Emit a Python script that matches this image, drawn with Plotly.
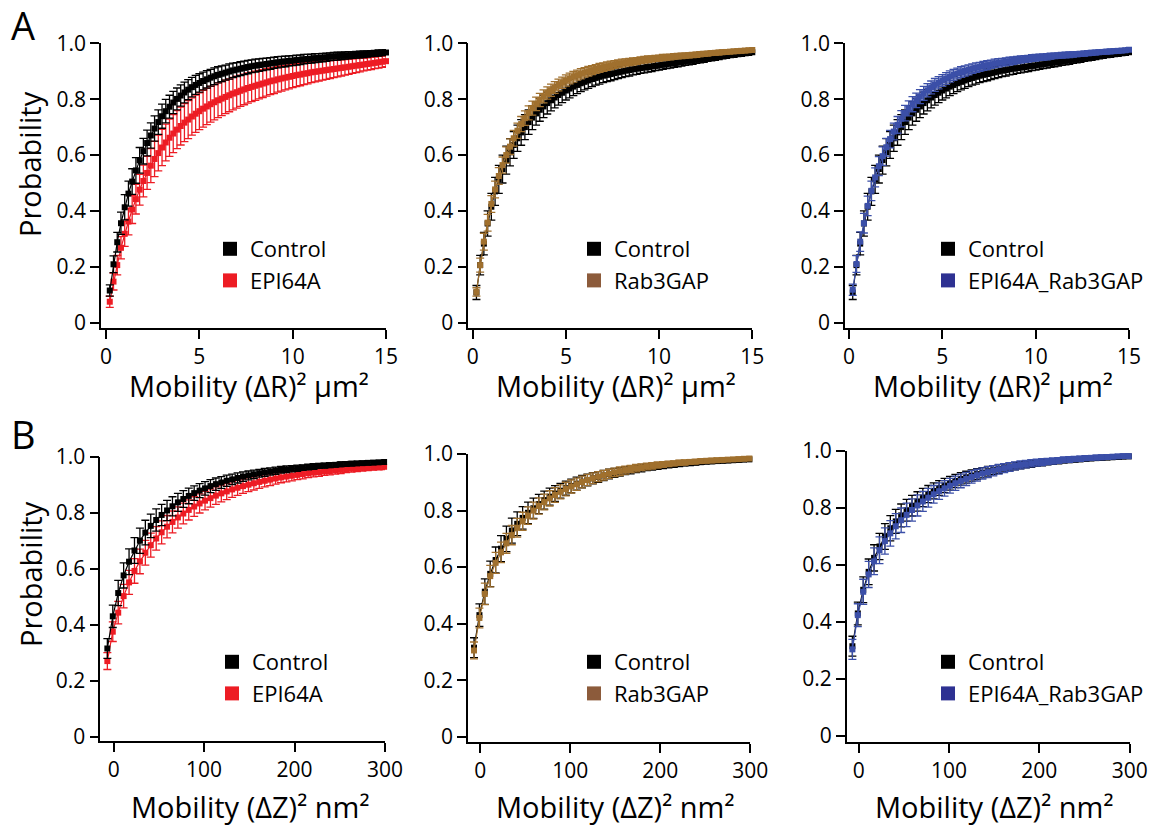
import plotly.graph_objects as go

# ---------------- data ----------------
xA = [0.2, 0.4, 0.6, 0.8, 1.0, 1.2, 1.4, 1.6, 1.8, 2.0,
      2.2, 2.4, 2.6, 2.8, 3.0, 3.2, 3.4, 3.6, 3.8, 4.0,
      4.2, 4.4, 4.6, 4.8, 5.0, 5.2, 5.4, 5.6, 5.8, 6.0,
      6.2, 6.4, 6.6, 6.8, 7.0, 7.2, 7.4, 7.6, 7.8, 8.0,
      8.2, 8.4, 8.6, 8.8, 9.0, 9.2, 9.4, 9.6, 9.8, 10.0,
      10.2, 10.4, 10.6, 10.8, 11.0, 11.2, 11.4, 11.6, 11.8, 12.0,
      12.2, 12.4, 12.6, 12.8, 13.0, 13.2, 13.4, 13.6, 13.8, 14.0,
      14.2, 14.4, 14.6, 14.8, 15.0]

ctrlA1 = [.115, .209, .288, .356, .413, .462, .505, .545, .581, .614,
          .643, .670, .695, .718, .739, .757, .773, .788, .801, .813,
          .824, .834, .843, .851, .858, .865, .871, .877, .882, .887,
          .891, .895, .899, .903, .906, .909, .912, .915, .918, .920,
          .922, .924, .926, .928, .930, .932, .934, .935, .937, .938,
          .940, .941, .943, .944, .945, .947, .948, .949, .950, .952,
          .953, .954, .955, .956, .957, .958, .959, .960, .961, .962,
          .963, .964, .965, .966, .967]
ctrlA1_err = [.020, .030, .035, .040, .045, .045, .046, .046, .046, .046,
              .046, .045, .045, .044, .043, .042, .041, .040, .039, .038,
              .037, .036, .035, .034, .033, .032, .031, .030, .030, .029,
              .028, .027, .027, .026, .025, .025, .024, .024, .023, .023,
              .022, .022, .021, .021, .020, .020, .019, .019, .018, .018,
              .018, .017, .017, .016, .016, .016, .015, .015, .015, .014,
              .014, .014, .013, .013, .013, .012, .012, .012, .012, .011,
              .011, .011, .011, .010, .010]

epiA1 = [.075, .147, .206, .268, .318, .362, .405, .442, .476, .507,
         .536, .562, .586, .607, .627, .645, .662, .677, .691, .704,
         .716, .727, .738, .748, .757, .766, .774, .782, .789, .796,
         .802, .808, .814, .820, .825, .830, .835, .840, .844, .848,
         .852, .856, .860, .864, .867, .871, .874, .877, .880, .883,
         .886, .888, .891, .893, .896, .898, .900, .902, .904, .906,
         .908, .910, .912, .914, .916, .918, .920, .922, .924, .926,
         .928, .930, .932, .934, .936]
epiA1_err = [.020, .030, .035, .040, .045, .048, .050, .053, .055, .057,
             .059, .061, .063, .064, .065, .066, .067, .068, .068, .068,
             .068, .068, .067, .067, .066, .066, .065, .064, .063, .062,
             .061, .060, .059, .058, .057, .056, .055, .054, .053, .052,
             .051, .050, .049, .048, .047, .046, .045, .044, .043, .042,
             .041, .040, .039, .038, .037, .036, .035, .034, .033, .032,
             .031, .030, .029, .028, .027, .026, .025, .024, .023, .022,
             .022, .021, .021, .020, .020]

ctrlA23 = [.108, .206, .283, .355, .415, .470, .513, .550, .582, .610,
           .636, .660, .681, .700, .718, .734, .749, .762, .774, .786,
           .796, .806, .815, .823, .831, .838, .845, .851, .857, .862,
           .867, .872, .876, .880, .884, .887, .890, .893, .896, .899,
           .902, .904, .907, .909, .911, .913, .915, .917, .919, .921,
           .923, .925, .927, .929, .931, .933, .935, .937, .939, .941,
           .943, .945, .947, .949, .951, .953, .955, .957, .959, .960,
           .962, .963, .965, .966, .968]
ctrlA23_err = [.025, .035, .040, .045, .048, .050, .050, .050, .050, .049,
               .048, .047, .046, .045, .044, .043, .042, .041, .040, .039,
               .038, .037, .036, .035, .034, .033, .032, .031, .030, .029,
               .028, .027, .026, .026, .025, .024, .024, .023, .022, .022,
               .021, .021, .020, .020, .019, .019, .018, .018, .017, .017,
               .016, .016, .016, .015, .015, .015, .014, .014, .014, .013,
               .013, .013, .012, .012, .012, .011, .011, .011, .010, .010,
               .010, .010, .009, .009, .009]

rabA2 = [.110, .206, .290, .358, .425, .477, .525, .564, .600, .630,
         .660, .687, .711, .732, .751, .768, .783, .797, .810, .822,
         .832, .842, .851, .859, .867, .874, .880, .886, .891, .896,
         .900, .904, .908, .912, .915, .918, .921, .924, .927, .929,
         .931, .933, .935, .937, .939, .941, .943, .944, .946, .947,
         .949, .950, .951, .953, .954, .955, .956, .957, .958, .959,
         .961, .962, .963, .965, .966, .967, .968, .969, .970, .971,
         .972, .973, .974, .975, .976]
rabA2_err = [.015, .025, .030, .030, .030, .030, .030, .029, .029, .028,
             .028, .027, .027, .026, .025, .025, .024, .024, .023, .022,
             .022, .021, .021, .020, .020, .019, .019, .018, .018, .017,
             .017, .016, .016, .016, .015, .015, .015, .014, .014, .014,
             .013, .013, .013, .012, .012, .012, .012, .011, .011, .011,
             .011, .010, .010, .010, .010, .010, .009, .009, .009, .009,
             .009, .009, .008, .008, .008, .008, .008, .008, .007, .007,
             .007, .007, .007, .007, .007]

epiRabA3 = [.118, .210, .290, .356, .418, .472, .520, .560, .596, .628,
            .657, .684, .708, .730, .750, .767, .782, .796, .809, .821,
            .832, .842, .851, .859, .867, .874, .881, .887, .892, .897,
            .901, .905, .909, .913, .916, .919, .922, .925, .928, .930,
            .932, .934, .936, .938, .940, .942, .944, .945, .947, .948,
            .950, .951, .952, .954, .955, .956, .957, .958, .959, .960,
            .961, .962, .963, .965, .966, .967, .968, .969, .970, .971,
            .972, .973, .974, .975, .977]
epiRabA3_err = [.020, .030, .035, .035, .035, .035, .034, .034, .033, .032,
                .031, .030, .030, .029, .028, .027, .027, .026, .025, .025,
                .024, .023, .023, .022, .021, .021, .020, .020, .019, .019,
                .018, .018, .017, .017, .016, .016, .016, .015, .015, .015,
                .014, .014, .014, .013, .013, .013, .012, .012, .012, .012,
                .011, .011, .011, .011, .010, .010, .010, .010, .010, .009,
                .009, .009, .009, .009, .009, .008, .008, .008, .008, .008,
                .008, .008, .007, .007, .007]

xB = [-7, -1, 5, 11, 17, 23, 29, 35, 41, 47,
      53, 59, 65, 71, 77, 83, 89, 95, 101, 107,
      113, 119, 125, 131, 137, 143, 149, 155, 161, 167,
      173, 179, 185, 191, 197, 203, 209, 215, 221, 227,
      233, 239, 245, 251, 257, 263, 269, 275, 281, 287,
      293, 299]

ctrlB = [.315, .430, .513, .576, .625, .665, .700, .729, .753, .774,
         .792, .808, .823, .837, .849, .860, .870, .879, .887, .895,
         .902, .908, .914, .919, .924, .929, .933, .937, .941, .944,
         .947, .950, .953, .955, .957, .959, .961, .963, .965, .967,
         .968, .970, .971, .973, .974, .975, .976, .977, .978, .979,
         .980, .981]
ctrlB_err = [.035, .040, .045, .045, .046, .046, .045, .044, .042, .040,
             .038, .036, .034, .032, .030, .028, .026, .025, .024, .023,
             .022, .021, .020, .019, .018, .017, .016, .015, .014, .014,
             .013, .013, .012, .012, .011, .011, .010, .010, .010, .009,
             .009, .009, .008, .008, .008, .008, .007, .007, .007, .007,
             .006, .006]

epiB = [.270, .375, .443, .502, .551, .592, .626, .657, .684, .708,
        .730, .750, .767, .783, .797, .810, .822, .833, .843, .852,
        .861, .869, .876, .883, .889, .895, .900, .905, .910, .914,
        .918, .922, .926, .929, .932, .935, .938, .941, .943, .945,
        .947, .949, .951, .953, .955, .957, .958, .960, .961, .962,
        .963, .964]
epiB_err = [.030, .035, .040, .042, .043, .044, .044, .044, .043, .042,
            .041, .040, .039, .038, .037, .036, .035, .034, .033, .032,
            .031, .030, .029, .028, .027, .026, .025, .024, .023, .022,
            .021, .020, .019, .019, .018, .017, .017, .016, .015, .015,
            .014, .014, .013, .013, .012, .012, .011, .011, .011, .010,
            .010, .010]

rabB = [.305, .420, .505, .568, .615, .652, .684, .713, .739, .762,
        .782, .800, .816, .830, .843, .855, .866, .876, .885, .893,
        .901, .908, .914, .920, .925, .930, .935, .939, .943, .947,
        .950, .953, .956, .958, .961, .963, .965, .967, .969, .970,
        .972, .973, .975, .976, .977, .978, .979, .980, .981, .982,
        .983, .984]
rabB_err = [.030, .035, .038, .038, .037, .036, .035, .034, .033, .032,
            .031, .030, .029, .028, .027, .026, .025, .024, .023, .022,
            .021, .020, .019, .018, .017, .016, .015, .015, .014, .013,
            .013, .012, .012, .011, .011, .010, .010, .009, .009, .009,
            .008, .008, .008, .007, .007, .007, .007, .006, .006, .006,
            .006, .006]

epiRabB = [.304, .424, .506, .567, .613, .652, .684, .711, .736, .757,
           .776, .793, .809, .823, .836, .848, .859, .869, .878, .887,
           .895, .902, .909, .915, .921, .926, .931, .936, .940, .944,
           .948, .951, .954, .957, .959, .961, .963, .965, .967, .969,
           .970, .972, .973, .975, .976, .977, .978, .979, .980, .981,
           .982, .982]
epiRabB_err = [.035, .040, .044, .046, .047, .047, .046, .045, .044, .043,
               .041, .039, .037, .035, .033, .031, .029, .027, .026, .025,
               .024, .023, .022, .021, .020, .019, .018, .017, .016, .015,
               .014, .014, .013, .013, .012, .012, .011, .011, .010, .010,
               .010, .009, .009, .009, .008, .008, .008, .008, .007, .007,
               .007, .007]

yticks = [0, 0.2, 0.4, 0.6, 0.8, 1.0]
ytext = ["0", "0.2", "0.4", "0.6", "0.8", "1.0"]
xticksA = [0, 5, 10, 15]
xticksB = [0, 100, 200, 300]
titleA = "Mobility (ΔR)² μm²"
titleB = "Mobility (ΔZ)² nm²"

# ---------------- styling ----------------
W, H = 1158, 832
FONT = "Open Sans"
BLACK = "#000000"
RED = "#ed1c24"
BROWN = "#a0702e"
BROWN_LEG = "#8c5b3b"
BLUE = "#3b4fa8"
BLUE_LEG = "#2e3192"


def fx(p):
    return p / W


def fy(p):
    return 1 - p / H


# panels: pixel domains and ranges
panels = [
    dict(dx=(101, 386), dy=(43.3, 327.7), xr=(-0.27, 15), yr=(-0.018, 1.0), xt=xticksA,
         title=titleA, tcx=249, tcy=385, leg=(230, 247),
         series=[("EPI64A", xA, epiA1, epiA1_err, RED),
                 ("Control", xA, ctrlA1, ctrlA1_err, BLACK)],
         legend=[("Control", BLACK), ("EPI64A", RED)]),
    dict(dx=(468.3, 752.3), dy=(43.3, 327.7), xr=(-0.236, 15), yr=(-0.018, 1.0), xt=xticksA,
         title=titleA, tcx=616, tcy=385, leg=(594, 247),
         series=[("Control", xA, ctrlA23, ctrlA23_err, BLACK),
                 ("Rab3GAP", xA, rabA2, rabA2_err, BROWN)],
         legend=[("Control", BLACK), ("Rab3GAP", BROWN_LEG)]),
    dict(dx=(845, 1129), dy=(43.3, 327.7), xr=(-0.214, 15), yr=(-0.018, 1.0), xt=xticksA,
         title=titleA, tcx=993, tcy=385, leg=(948, 247),
         series=[("Control", xA, ctrlA23, ctrlA23_err, BLACK),
                 ("EPI64A_Rab3GAP", xA, epiRabA3, epiRabA3_err, BLUE)],
         legend=[("Control", BLACK), ("EPI64A_Rab3GAP", BLUE_LEG)]),
    dict(dx=(100.3, 385), dy=(456.7, 741), xr=(-14.8, 300), yr=(-0.0154, 1.0), xt=xticksB,
         title=titleB, tcx=250, tcy=806, leg=(232, 660),
         series=[("EPI64A", xB, epiB, epiB_err, RED),
                 ("Control", xB, ctrlB, ctrlB_err, BLACK)],
         legend=[("Control", BLACK), ("EPI64A", RED)]),
    dict(dx=(468, 750.3), dy=(454, 741.7), xr=(-13.7, 300), yr=(-0.0177, 1.0), xt=xticksB,
         title=titleB, tcx=615, tcy=806, leg=(594, 660),
         series=[("Control", xB, ctrlB, ctrlB_err, BLACK),
                 ("Rab3GAP", xB, rabB, rabB_err, BROWN)],
         legend=[("Control", BLACK), ("Rab3GAP", BROWN_LEG)]),
    dict(dx=(846.7, 1129.7), dy=(451, 741.7), xr=(-13.3, 300), yr=(-0.02, 1.0), xt=xticksB,
         title=titleB, tcx=994, tcy=806, leg=(948, 660),
         series=[("Control", xB, ctrlB, ctrlB_err, BLACK),
                 ("EPI64A_Rab3GAP", xB, epiRabB, epiRabB_err, BLUE)],
         legend=[("Control", BLACK), ("EPI64A_Rab3GAP", BLUE_LEG)]),
]

fig = go.Figure()
layout = dict(
    width=W, height=H, margin=dict(l=0, r=0, t=0, b=0, autoexpand=False),
    paper_bgcolor="white", plot_bgcolor="white",
    font=dict(family=FONT, color="black", size=21),
    showlegend=True,
)
annotations = []

for i, p in enumerate(panels):
    n = i + 1
    xa = "x" if n == 1 else f"x{n}"
    ya = "y" if n == 1 else f"y{n}"
    lg = "legend" if n == 1 else f"legend{n}"
    axis_common = dict(showline=True, linecolor="black", linewidth=1.6,
                       ticks="outside", ticklen=9, tickwidth=1.6, tickcolor="black",
                       showgrid=False, zeroline=False,
                       tickfont=dict(family=FONT, size=21, color="black"))
    layout["xaxis" if n == 1 else f"xaxis{n}"] = dict(
        domain=[fx(p["dx"][0]), fx(p["dx"][1])], range=list(p["xr"]),
        anchor=ya, tickmode="array", tickvals=p["xt"],
        ticktext=[str(v) for v in p["xt"]], **axis_common)
    layout["yaxis" if n == 1 else f"yaxis{n}"] = dict(
        domain=[fy(p["dy"][1]), fy(p["dy"][0])], range=list(p["yr"]),
        anchor=xa, tickmode="array", tickvals=yticks, ticktext=ytext,
        **axis_common)

    for name, xs, ys, es, col in p["series"]:
        fig.add_trace(go.Scatter(
            x=xs, y=ys, mode="lines+markers", name=name, showlegend=False,
            xaxis=xa, yaxis=ya, cliponaxis=False,
            line=dict(color=col, width=1.2),
            marker=dict(symbol="square", size=6, color=col),
            error_y=dict(type="data", array=es, visible=True, color=col,
                         thickness=1.3, width=4),
        ))
    for name, col in p["legend"]:
        fig.add_trace(go.Scatter(
            x=[None], y=[None], mode="markers", name=name, legend=lg,
            xaxis=xa, yaxis=ya,
            marker=dict(symbol="square", size=14, color=col,
                        line=dict(color=col, width=0)),
        ))
    cx, cy = p["leg"]
    layout[lg] = dict(
        x=fx(cx - 20), y=fy(cy - 19), xanchor="left", yanchor="top",
        bgcolor="rgba(0,0,0,0)", borderwidth=0, itemwidth=30,
        tracegroupgap=0, traceorder="normal",
        font=dict(family=FONT, size=22, color="black"),
        itemclick=False, itemdoubleclick=False,
    )
    annotations.append(dict(
        text=p["title"], x=fx(p["tcx"]), y=fy(p["tcy"]), xref="paper", yref="paper",
        xanchor="center", yanchor="middle", showarrow=False,
        font=dict(family=FONT, size=29, color="black")))

# y-axis titles
for cyv in (164, 574):
    annotations.append(dict(
        text="Probability", x=fx(30), y=fy(cyv), xref="paper", yref="paper",
        xanchor="center", yanchor="middle", showarrow=False, textangle=-90,
        font=dict(family=FONT, size=29, color="black")))

# panel letters
for letter, cyv in (("A", 25), ("B", 434)):
    annotations.append(dict(
        text=letter, x=fx(23), y=fy(cyv), xref="paper", yref="paper",
        xanchor="center", yanchor="middle", showarrow=False,
        font=dict(family=FONT, size=38, color="black")))

layout["annotations"] = annotations
fig.update_layout(**layout)
fig.write_html("out.html", config={"displayModeBar": False},
               post_script="document.body.style.margin='0';document.body.style.overflow='hidden';")
